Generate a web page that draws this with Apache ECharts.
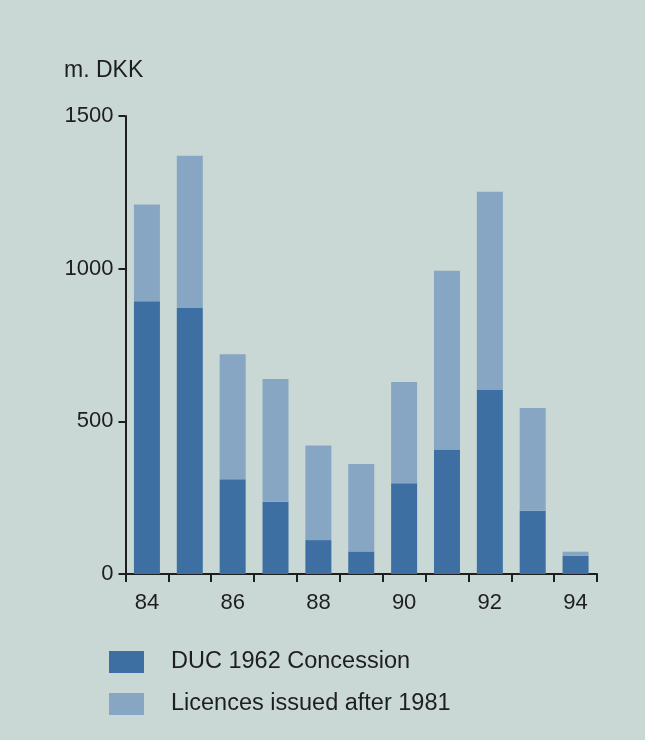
<!DOCTYPE html>
<html>
<head>
<meta charset="utf-8">
<script src="https://cdn.jsdelivr.net/npm/echarts@6/dist/echarts.min.js"></script>
<style>
  html, body { margin: 0; padding: 0; background: #c9d8d5; }
  #chart { width: 645px; height: 740px; }
</style>
</head>
<body>
<div id="chart"></div>
<script>
// Investment by licence group, million DKK, 1984-1994
const years = ['84', '85', '86', '87', '88', '89', '90', '91', '92', '93', '94'];
const ducConcession = [893, 871, 310, 237, 111, 74, 297, 408, 603, 207, 60];
const licencesAfter1981 = [317, 499, 410, 402, 310, 286, 332, 585, 649, 337, 13];
const yTicks = { min: 0, max: 1500, interval: 500 };
const unitLabel = 'm. DKK';
const seriesNames = ['DUC 1962 Concession', 'Licences issued after 1981'];

const FONT = '"Liberation Sans", Arial, Helvetica, sans-serif';
const INK = '#1e1e1e';
const DARK = '#3d6fa3';
const LIGHT = '#87a6c3';

const chart = echarts.init(document.getElementById('chart'), null, { renderer: 'canvas' });

chart.setOption({
  backgroundColor: '#c9d8d5',
  animation: false,
  textStyle: { fontFamily: FONT },
  graphic: [{
    type: 'text',
    left: 64,
    top: 59,
    style: { text: unitLabel, font: '23px ' + FONT, fill: INK }
  }],
  legend: {
    orient: 'vertical',
    left: 104,
    top: 645,
    itemWidth: 35,
    itemHeight: 22,
    itemGap: 18,
    icon: 'rect',
    selectedMode: false,
    textStyle: { fontFamily: FONT, fontSize: 23.5, color: INK, padding: [0, 0, 0, 22] },
    data: seriesNames
  },
  grid: { left: 125.5, right: 48, top: 116, bottom: 166 },
  xAxis: {
    type: 'category',
    data: years,
    boundaryGap: true,
    axisLine: { lineStyle: { color: INK, width: 2 } },
    axisTick: { show: true, interval: 0, length: 8, lineStyle: { color: INK, width: 2 } },
    axisLabel: { interval: 1, margin: 18, fontSize: 22, color: INK, fontFamily: FONT }
  },
  yAxis: {
    type: 'value',
    min: yTicks.min,
    max: yTicks.max,
    interval: yTicks.interval,
    splitLine: { show: false },
    axisLine: { show: true, lineStyle: { color: INK, width: 2 } },
    axisTick: { show: true, length: 7, lineStyle: { color: INK, width: 2 } },
    axisLabel: {
      margin: 12, fontSize: 22, color: INK, fontFamily: FONT,
      formatter: (v) => String(v)
    }
  },
  series: [
    {
      name: seriesNames[0],
      type: 'bar',
      stack: 'total',
      barWidth: 26,
      itemStyle: { color: DARK },
      data: ducConcession
    },
    {
      name: seriesNames[1],
      type: 'bar',
      stack: 'total',
      barWidth: 26,
      itemStyle: { color: LIGHT },
      data: licencesAfter1981
    }
  ]
});
</script>
</body>
</html>
